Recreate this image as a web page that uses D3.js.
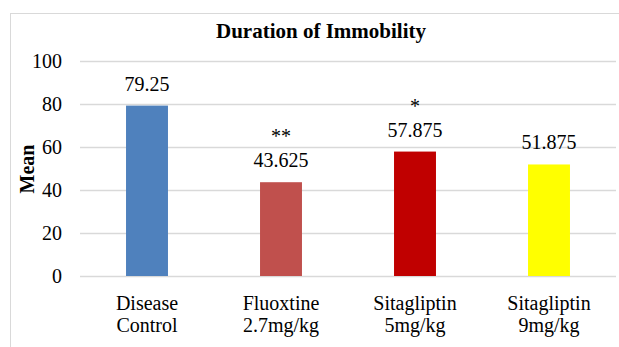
<!DOCTYPE html>
<html>
<head>
<meta charset="utf-8">
<script src="https://cdn.jsdelivr.net/npm/d3@7"></script>
<style>
  html, body { margin: 0; padding: 0; background: #fff; }
  svg text { font-family: "Liberation Serif", "Times New Roman", serif !important; fill: #000; }
</style>
</head>
<body>
<svg id="chart" width="619" height="347"></svg>
<script>
// Groups (two lines each), mean immobility and significance marks
const categories = [
  ["Disease", "Control"],
  ["Fluoxtine", "2.7mg/kg"],
  ["Sitagliptin", "5mg/kg"],
  ["Sitagliptin", "9mg/kg"]
];
const means = [79.25, 43.625, 57.875, 51.875];
const meanLabels = ["79.25", "43.625", "57.875", "51.875"];
const significance = ["", "**", "*", ""];
const barColors = ["#4F81BD", "#C0504D", "#C00000", "#FFFF00"];
const yTicks = [0, 20, 40, 60, 80, 100];

const svg = d3.select("#chart");
const plot = { left: 80, right: 616, top: 61, bottom: 276 };

// Chart frame
svg.append("rect")
  .attr("x", 10.5).attr("y", 13.5)
  .attr("width", 640).attr("height", 360)
  .attr("fill", "#fff").attr("stroke", "#d9d9d9").attr("stroke-width", 1);

const keys = categories.map((c, i) => i);
const x = d3.scaleBand()
  .domain(keys)
  .range([plot.left, plot.right])
  .paddingInner(0.687)
  .paddingOuter(0.3435);

const y = d3.scaleLinear().domain([0, 100]).range([plot.bottom, plot.top]);

// Horizontal gridlines with tick labels
const yAxis = d3.axisLeft(y).tickValues(yTicks).tickSize(-(plot.right - plot.left)).tickPadding(18);
const gy = svg.append("g").attr("transform", `translate(${plot.left},0)`).call(yAxis);
gy.select(".domain").remove();
gy.selectAll(".tick line").attr("stroke", "#d9d9d9").attr("stroke-width", 1.3);
gy.selectAll(".tick text").attr("font-size", 20);

// Bars
svg.append("g").selectAll("rect").data(means).join("rect")
  .attr("x", (d, i) => x(i))
  .attr("y", d => y(d))
  .attr("width", x.bandwidth())
  .attr("height", d => y(0) - y(d))
  .attr("fill", (d, i) => barColors[i]);

// Value labels
svg.append("g").selectAll("text").data(means).join("text")
  .attr("x", (d, i) => x(i) + x.bandwidth() / 2)
  .attr("y", d => y(d) - 15)
  .attr("text-anchor", "middle")
  .attr("font-size", 20)
  .text((d, i) => meanLabels[i]);

// Significance marks above the value labels
svg.append("g").selectAll("text").data(means).join("text")
  .attr("x", (d, i) => x(i) + x.bandwidth() / 2)
  .attr("y", d => y(d) - 39)
  .attr("text-anchor", "middle")
  .attr("font-size", 20)
  .text((d, i) => significance[i]);

// Category labels
const gx = svg.append("g");
categories.forEach((lines, i) => {
  const t = gx.append("text")
    .attr("x", x(i) + x.bandwidth() / 2)
    .attr("y", 310)
    .attr("text-anchor", "middle")
    .attr("font-size", 20);
  lines.forEach((ln, j) => {
    t.append("tspan")
      .attr("x", x(i) + x.bandwidth() / 2)
      .attr("dy", j === 0 ? 0 : 22)
      .text(ln);
  });
});

// Title
svg.append("text")
  .attr("x", 321).attr("y", 38)
  .attr("text-anchor", "middle")
  .attr("font-size", 21).attr("font-weight", "bold")
  .text("Duration of Immobility");

// Y axis title
svg.append("text")
  .attr("transform", `translate(34,169) rotate(-90)`)
  .attr("text-anchor", "middle")
  .attr("font-size", 20).attr("font-weight", "bold")
  .text("Mean");
</script>
</body>
</html>
